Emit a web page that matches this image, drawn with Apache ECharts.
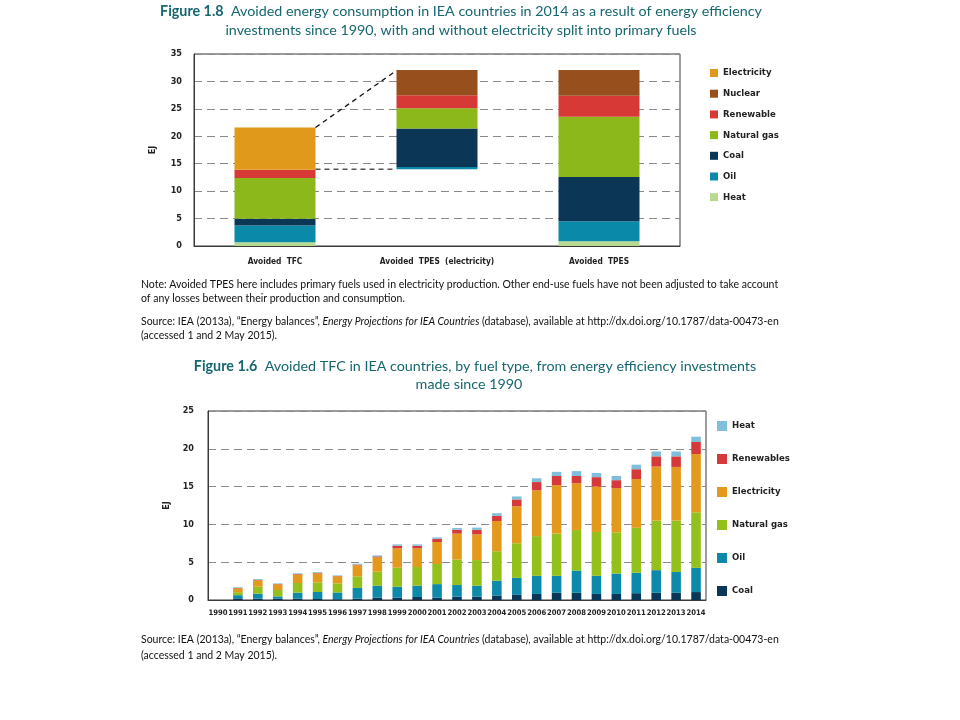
<!DOCTYPE html>
<html>
<head>
<meta charset="utf-8">
<script src="https://cdn.jsdelivr.net/npm/echarts@6/dist/echarts.min.js"></script>
<style>html,body{margin:0;padding:0;background:#fff}#c{width:960px;height:720px}</style>
</head>
<body>
<div id="c"></div>
<script>
// ---------- Figure 1.8 data ----------
const cats1 = ['Avoided  TFC', 'Avoided  TPES  (electricity)', 'Avoided  TPES'];
const yTicks1 = [0, 5, 10, 15, 20, 25, 30, 35];
const tpesElecBase = [0, 14.0, 0];
const heat1 = [0.7, 0, 0.85];
const oil1 = [3.05, 0.4, 3.65];
const coal1 = [1.2, 7.0, 8.1];
const gas1 = [7.45, 3.7, 10.95];
const ren1 = [1.5, 2.4, 3.85];
const nuc1 = [0, 4.6, 4.7];
const elec1 = [7.7, 0, 0];
const connectorLow = [[0.25, 14.0], [0.75, 14.0]];
const connectorHigh = [[0.25, 21.6], [0.75, 32.0]];

// ---------- Figure 1.6 data ----------
const years = ['1990','1991','1992','1993','1994','1995','1996','1997','1998','1999','2000','2001','2002','2003','2004','2005','2006','2007','2008','2009','2010','2011','2012','2013','2014'];
const yTicks2 = [0, 5, 10, 15, 20, 25];
const coal2 = [0,0.22,0.18,0.2,0.18,0.13,0.1,0.18,0.3,0.3,0.4,0.3,0.44,0.44,0.6,0.68,0.8,0.95,0.95,0.8,0.8,0.9,0.95,0.95,1.05];
const oil2  = [0,0.42,0.66,0.28,0.79,0.93,0.9,1.42,1.6,1.46,1.5,1.8,1.54,1.46,1.95,2.25,2.4,2.25,2.95,2.4,2.7,2.7,3.0,2.75,3.2];
const gas2  = [0,0.4,0.92,0.84,1.28,1.27,1.2,1.53,1.84,2.51,2.46,2.66,3.37,3.38,3.9,4.57,5.25,5.6,5.35,5.8,5.45,5.95,6.55,6.8,7.35];
const elec2 = [0,0.5,0.84,0.75,1.1,1.19,0.93,1.45,1.9,2.56,2.47,2.91,3.43,3.4,4.0,4.9,6.05,6.4,6.2,6.0,5.85,6.45,7.15,7.1,7.7];
const ren2  = [0,0.05,0.06,0.05,0.08,0.08,0.06,0.1,0.13,0.35,0.35,0.43,0.52,0.6,0.68,0.9,1.1,1.2,0.95,1.25,1.05,1.3,1.35,1.4,1.6];
const heat2 = [0,0.1,0.12,0.08,0.1,0.1,0.07,0.12,0.13,0.18,0.18,0.18,0.22,0.3,0.35,0.4,0.5,0.55,0.65,0.55,0.55,0.6,0.65,0.65,0.7];

const C1 = {Electricity:'#e0991b', Nuclear:'#964f1d', Renewable:'#d73a36', 'Natural gas':'#8db81b', Coal:'#0b3656', Oil:'#0b89a8', Heat:'#b7da90'};
const C2 = {Heat:'#80bedb', Renewables:'#d6393a', Electricity:'#e2991c', 'Natural gas':'#93c01b', Oil:'#0d8aaa', Coal:'#0a3657'};

const AX = "'Liberation Sans Narrow', 'DejaVu Sans Condensed', 'Liberation Sans', sans-serif";
const TX = "Lato, 'Open Sans', sans-serif";

const chart = echarts.init(document.getElementById('c'), null, {renderer: 'canvas'});

function bar1(name, data, color) {
  return {name, type:'bar', stack:'a', xAxisIndex:0, yAxisIndex:0, data, barWidth:'50%',
    itemStyle:{color}, emphasis:{disabled:true}, animation:false};
}
function bar2(name, data, color) {
  return {name, type:'bar', stack:'b', xAxisIndex:2, yAxisIndex:1, data, barWidth:'48%',
    itemStyle:{color}, emphasis:{disabled:true}, animation:false};
}
function conn(data, w, col) {
  return {type:'line', xAxisIndex:1, yAxisIndex:0, data, symbol:'none', silent:true, animation:false,
    lineStyle:{type:[5,4], width:w, color:col}, z:5};
}

const legendText = {fontFamily: AX, fontWeight:'bold', fontSize:9.5, color:'#222'};
const titleColor = '#17676f';
const TS = 14.3, NS = 10.5;

function txt(x, y, text, size, color, align, rich) {
  const st = {text, x, y, font: size + 'px ' + TX, fill: color, textAlign: align || 'left', textVerticalAlign:'middle'};
  if (rich) st.rich = rich;
  return {type:'text', style: st, silent:true};
}
const richTitle = {b:{fontWeight:'bold', fontFamily:TX, fontSize:TS, fill:titleColor}};
const richNote = {i:{fontStyle:'italic', fontFamily:TX, fontSize:NS, fill:'#111'}};
const srcText = 'Source: IEA (2013a), \u201cEnergy balances\u201d, {i|Energy Projections for IEA Countries} (database), available at http://dx.doi.org/10.1787/data-00473-en';

const option = {
  animation:false,
  backgroundColor:'#fff',
  grid:[
    {left:194, right:280, top:54, bottom:474, show:true, borderColor:'#3a3a3a', borderWidth:1, containLabel:false},
    {left:208, right:254, top:411, bottom:120, show:true, borderColor:'#3a3a3a', borderWidth:1, containLabel:false}
  ],
  xAxis:[
    {type:'category', gridIndex:0, data:cats1, boundaryGap:true,
      axisLine:{lineStyle:{color:'#3a3a3a'}}, axisTick:{inside:true, length:3, lineStyle:{color:'#555'}},
      axisLabel:{fontFamily:AX, fontWeight:'bold', fontSize:8.3, color:'#222', margin:12, interval:0}},
    {type:'value', gridIndex:0, min:-0.5, max:2.5, show:false},
    {type:'category', gridIndex:1, data:years, boundaryGap:true,
      axisLine:{lineStyle:{color:'#3a3a3a'}}, axisTick:{inside:true, length:3, lineStyle:{color:'#333'}},
      axisLabel:{fontFamily:AX, fontWeight:'bold', fontSize:7.6, color:'#222', margin:9, interval:0}}
  ],
  yAxis:[
    {type:'value', gridIndex:0, min:yTicks1[0], max:yTicks1[yTicks1.length-1], interval:5,
      name:'EJ', nameLocation:'middle', nameGap:37, nameRotate:90,
      nameTextStyle:{fontFamily:AX, fontWeight:'bold', fontSize:9, color:'#222'},
      axisLine:{show:true, onZero:false, lineStyle:{color:'#3a3a3a'}}, axisTick:{show:false},
      axisLabel:{fontFamily:AX, fontWeight:'bold', fontSize:9, color:'#222', margin:12},
      splitLine:{lineStyle:{type:[8,5], color:'#8a8a8a', width:1}}},
    {type:'value', gridIndex:1, min:yTicks2[0], max:yTicks2[yTicks2.length-1], interval:5,
      name:'EJ', nameLocation:'middle', nameGap:37, nameRotate:90,
      nameTextStyle:{fontFamily:AX, fontWeight:'bold', fontSize:9, color:'#222'},
      axisLine:{show:true, onZero:false, lineStyle:{color:'#3a3a3a'}}, axisTick:{show:false},
      axisLabel:{fontFamily:AX, fontWeight:'bold', fontSize:9, color:'#222', margin:14},
      splitLine:{lineStyle:{type:[8,5], color:'#8a8a8a', width:1}}}
  ],
  legend:[
    {orient:'vertical', left:705, top:63, itemWidth:8, itemHeight:8, itemGap:10.7, icon:'rect', itemTextGap:4,
      selectedMode:false, textStyle:legendText, padding:5,
      data:['Electricity','Nuclear','Renewable','Natural gas','Coal','Oil','Heat'].map(n=>({name:n, itemStyle:{color:C1[n]}}))},
    {orient:'vertical', left:712, top:416, itemWidth:10, itemHeight:10, itemGap:23, icon:'rect', itemTextGap:4,
      selectedMode:false, textStyle:legendText, padding:5,
      data:['Heat','Renewables','Electricity','Natural gas','Oil','Coal'].map(n=>({name:n, itemStyle:{color:C2[n]}}))}
  ],
  series:[
    {name:'base', type:'bar', stack:'a', xAxisIndex:0, yAxisIndex:0, data:tpesElecBase, barWidth:'50%',
      itemStyle:{color:'rgba(0,0,0,0)'}, silent:true, animation:false},
    bar1('Heat', heat1, C1.Heat),
    bar1('Oil', oil1, C1.Oil),
    bar1('Coal', coal1, C1.Coal),
    bar1('Natural gas', gas1, C1['Natural gas']),
    bar1('Renewable', ren1, C1.Renewable),
    bar1('Nuclear', nuc1, C1.Nuclear),
    bar1('Electricity', elec1, C1.Electricity),
    conn(connectorLow, 1.6, '#555'),
    conn(connectorHigh, 1.3, '#111'),
    bar2('Coal', coal2, C2.Coal),
    bar2('Oil', oil2, C2.Oil),
    bar2('Natural gas', gas2, C2['Natural gas']),
    bar2('Electricity', elec2, C2.Electricity),
    bar2('Renewables', ren2, C2.Renewables),
    bar2('Heat', heat2, C2.Heat)
  ],
  graphic:[
    txt(461, 11, '{b|Figure 1.8}  Avoided energy consumption in IEA countries in 2014 as a result of energy efficiency', TS, titleColor, 'center', richTitle),
    txt(461, 30, 'investments since 1990, with and without electricity split into primary fuels', TS, titleColor, 'center'),
    txt(141, 285, 'Note: Avoided TPES here includes primary fuels used in electricity production. Other end-use fuels have not been adjusted to take account', NS, '#111'),
    txt(141, 299, 'of any losses between their production and consumption.', NS, '#111'),
    txt(141, 322, srcText, NS, '#111', 'left', richNote),
    txt(141, 336, '(accessed 1 and 2 May 2015).', NS, '#111'),
    txt(475, 366, '{b|Figure 1.6}  Avoided TFC in IEA countries, by fuel type, from energy efficiency investments', TS, titleColor, 'center', richTitle),
    txt(469, 384, 'made since 1990', TS, titleColor, 'center'),
    txt(141, 640, srcText, NS, '#111', 'left', richNote),
    txt(141, 656, '(accessed 1 and 2 May 2015).', NS, '#111')
  ]
};
chart.setOption(option);
</script>
</body>
</html>
